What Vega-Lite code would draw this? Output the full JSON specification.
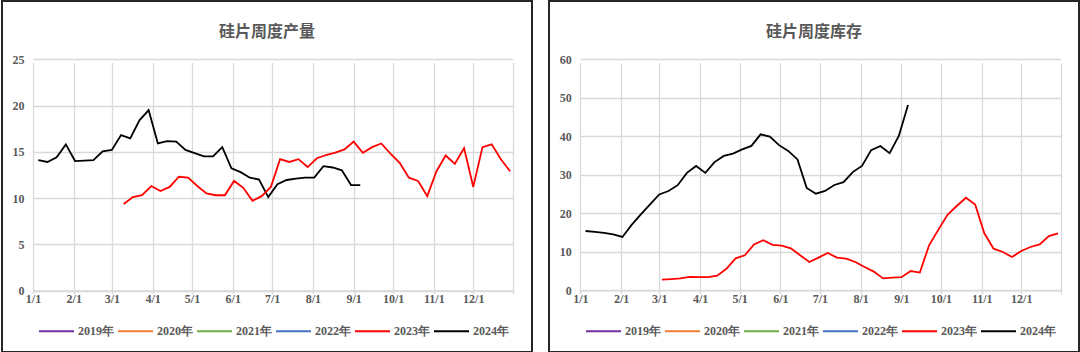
{
  "$schema": "https://vega.github.io/schema/vega-lite/v6.json",
  "background": "white",
  "padding": {"left": 1, "top": 0, "right": 0, "bottom": 0},
  "spacing": 17,
  "bounds": "flush",
  "resolve": {
    "scale": {"x": "independent", "y": "independent", "color": "independent", "strokeWidth": "independent"},
    "legend": {"color": "independent", "strokeWidth": "independent"},
    "axis": {"x": "independent", "y": "independent"}
  },
  "config": {
    "view": {"stroke": "#262626", "strokeWidth": 2},
    "font": "Liberation Serif",
    "axis": {
      "labelFont": "Liberation Serif",
      "labelFontSize": 12,
      "labelFontWeight": "bold",
      "labelColor": "#595959",
      "gridColor": "#d9d9d9",
      "gridWidth": 1.3,
      "domainColor": "#d9d9d9",
      "domainWidth": 1.3,
      "tickColor": "#d9d9d9",
      "tickWidth": 1.3,
      "title": null
    },
    "legend": {
      "orient": "none",
      "direction": "horizontal",
      "columns": 6,
      "legendX": 36,
      "legendY": 311.5,
      "symbolType": "stroke",
      "symbolSize": 1225,
      "labelFont": "Liberation Serif",
      "labelFontSize": 12,
      "labelFontWeight": "bold",
      "labelColor": "#595959",
      "labelOffset": 3,
      "columnPadding": 0,
      "title": null
    },
    "title": {
      "font": "Noto Sans CJK SC",
      "fontSize": 16,
      "fontWeight": "bold",
      "color": "#595959",
      "anchor": "middle",
      "frame": "group",
      "offset": -39
    }
  },
  "datasets": {
    "prod": [
      {"series": "2024年", "date": "2024/01/05", "value": 14.1},
      {"series": "2024年", "date": "2024/01/12", "value": 13.9},
      {"series": "2024年", "date": "2024/01/19", "value": 14.4},
      {"series": "2024年", "date": "2024/01/26", "value": 15.8},
      {"series": "2024年", "date": "2024/02/02", "value": 14.0},
      {"series": "2024年", "date": "2024/02/09", "value": 14.05},
      {"series": "2024年", "date": "2024/02/16", "value": 14.1},
      {"series": "2024年", "date": "2024/02/23", "value": 15.05},
      {"series": "2024年", "date": "2024/03/01", "value": 15.2},
      {"series": "2024年", "date": "2024/03/08", "value": 16.8},
      {"series": "2024年", "date": "2024/03/15", "value": 16.45},
      {"series": "2024年", "date": "2024/03/22", "value": 18.4},
      {"series": "2024年", "date": "2024/03/29", "value": 19.5},
      {"series": "2024年", "date": "2024/04/05", "value": 15.9},
      {"series": "2024年", "date": "2024/04/12", "value": 16.15},
      {"series": "2024年", "date": "2024/04/19", "value": 16.1},
      {"series": "2024年", "date": "2024/04/26", "value": 15.2},
      {"series": "2024年", "date": "2024/05/03", "value": 14.85},
      {"series": "2024年", "date": "2024/05/10", "value": 14.5},
      {"series": "2024年", "date": "2024/05/17", "value": 14.5},
      {"series": "2024年", "date": "2024/05/24", "value": 15.5},
      {"series": "2024年", "date": "2024/05/31", "value": 13.2},
      {"series": "2024年", "date": "2024/06/07", "value": 12.8},
      {"series": "2024年", "date": "2024/06/14", "value": 12.2},
      {"series": "2024年", "date": "2024/06/21", "value": 12.0},
      {"series": "2024年", "date": "2024/06/28", "value": 10.1},
      {"series": "2024年", "date": "2024/07/05", "value": 11.5},
      {"series": "2024年", "date": "2024/07/12", "value": 11.95},
      {"series": "2024年", "date": "2024/07/19", "value": 12.1},
      {"series": "2024年", "date": "2024/07/26", "value": 12.2},
      {"series": "2024年", "date": "2024/08/02", "value": 12.2},
      {"series": "2024年", "date": "2024/08/09", "value": 13.45},
      {"series": "2024年", "date": "2024/08/16", "value": 13.3},
      {"series": "2024年", "date": "2024/08/23", "value": 13.0},
      {"series": "2024年", "date": "2024/08/30", "value": 11.4},
      {"series": "2024年", "date": "2024/09/06", "value": 11.4},
      {"series": "2023年", "date": "2023/03/10", "value": 9.35},
      {"series": "2023年", "date": "2023/03/17", "value": 10.1},
      {"series": "2023年", "date": "2023/03/24", "value": 10.3},
      {"series": "2023年", "date": "2023/03/31", "value": 11.3},
      {"series": "2023年", "date": "2023/04/07", "value": 10.75},
      {"series": "2023年", "date": "2023/04/14", "value": 11.2},
      {"series": "2023年", "date": "2023/04/21", "value": 12.3},
      {"series": "2023年", "date": "2023/04/28", "value": 12.2},
      {"series": "2023年", "date": "2023/05/05", "value": 11.3},
      {"series": "2023年", "date": "2023/05/12", "value": 10.5},
      {"series": "2023年", "date": "2023/05/19", "value": 10.3},
      {"series": "2023年", "date": "2023/05/26", "value": 10.3},
      {"series": "2023年", "date": "2023/06/02", "value": 11.85},
      {"series": "2023年", "date": "2023/06/09", "value": 11.1},
      {"series": "2023年", "date": "2023/06/16", "value": 9.7},
      {"series": "2023年", "date": "2023/06/23", "value": 10.2},
      {"series": "2023年", "date": "2023/06/30", "value": 11.2},
      {"series": "2023年", "date": "2023/07/07", "value": 14.2},
      {"series": "2023年", "date": "2023/07/14", "value": 13.9},
      {"series": "2023年", "date": "2023/07/21", "value": 14.2},
      {"series": "2023年", "date": "2023/07/28", "value": 13.35},
      {"series": "2023年", "date": "2023/08/04", "value": 14.3},
      {"series": "2023年", "date": "2023/08/11", "value": 14.65},
      {"series": "2023年", "date": "2023/08/18", "value": 14.9},
      {"series": "2023年", "date": "2023/08/25", "value": 15.25},
      {"series": "2023年", "date": "2023/09/01", "value": 16.1},
      {"series": "2023年", "date": "2023/09/08", "value": 14.9},
      {"series": "2023年", "date": "2023/09/15", "value": 15.5},
      {"series": "2023年", "date": "2023/09/22", "value": 15.9},
      {"series": "2023年", "date": "2023/09/29", "value": 14.8},
      {"series": "2023年", "date": "2023/10/06", "value": 13.8},
      {"series": "2023年", "date": "2023/10/13", "value": 12.2},
      {"series": "2023年", "date": "2023/10/20", "value": 11.85},
      {"series": "2023年", "date": "2023/10/27", "value": 10.2},
      {"series": "2023年", "date": "2023/11/03", "value": 12.9},
      {"series": "2023年", "date": "2023/11/10", "value": 14.6},
      {"series": "2023年", "date": "2023/11/17", "value": 13.7},
      {"series": "2023年", "date": "2023/11/24", "value": 15.4},
      {"series": "2023年", "date": "2023/12/01", "value": 11.2},
      {"series": "2023年", "date": "2023/12/08", "value": 15.5},
      {"series": "2023年", "date": "2023/12/15", "value": 15.8},
      {"series": "2023年", "date": "2023/12/22", "value": 14.2},
      {"series": "2023年", "date": "2023/12/29", "value": 12.9}
    ],
    "inv": [
      {"series": "2024年", "date": "2024/01/05", "value": 15.4},
      {"series": "2024年", "date": "2024/01/12", "value": 15.15},
      {"series": "2024年", "date": "2024/01/19", "value": 14.9},
      {"series": "2024年", "date": "2024/01/26", "value": 14.5},
      {"series": "2024年", "date": "2024/02/02", "value": 13.85},
      {"series": "2024年", "date": "2024/02/09", "value": 17.0},
      {"series": "2024年", "date": "2024/02/16", "value": 19.7},
      {"series": "2024年", "date": "2024/02/23", "value": 22.3},
      {"series": "2024年", "date": "2024/03/01", "value": 24.9},
      {"series": "2024年", "date": "2024/03/08", "value": 25.8},
      {"series": "2024年", "date": "2024/03/15", "value": 27.3},
      {"series": "2024年", "date": "2024/03/22", "value": 30.5},
      {"series": "2024年", "date": "2024/03/29", "value": 32.3},
      {"series": "2024年", "date": "2024/04/05", "value": 30.5},
      {"series": "2024年", "date": "2024/04/12", "value": 33.3},
      {"series": "2024年", "date": "2024/04/19", "value": 34.9},
      {"series": "2024年", "date": "2024/04/26", "value": 35.5},
      {"series": "2024年", "date": "2024/05/03", "value": 36.6},
      {"series": "2024年", "date": "2024/05/10", "value": 37.5},
      {"series": "2024年", "date": "2024/05/17", "value": 40.5},
      {"series": "2024年", "date": "2024/05/24", "value": 39.9},
      {"series": "2024年", "date": "2024/05/31", "value": 37.7},
      {"series": "2024年", "date": "2024/06/07", "value": 36.2},
      {"series": "2024年", "date": "2024/06/14", "value": 34.0},
      {"series": "2024年", "date": "2024/06/21", "value": 26.6},
      {"series": "2024年", "date": "2024/06/28", "value": 25.1},
      {"series": "2024年", "date": "2024/07/05", "value": 25.8},
      {"series": "2024年", "date": "2024/07/12", "value": 27.35},
      {"series": "2024年", "date": "2024/07/19", "value": 28.1},
      {"series": "2024年", "date": "2024/07/26", "value": 30.7},
      {"series": "2024年", "date": "2024/08/02", "value": 32.3},
      {"series": "2024年", "date": "2024/08/09", "value": 36.4},
      {"series": "2024年", "date": "2024/08/16", "value": 37.5},
      {"series": "2024年", "date": "2024/08/23", "value": 35.6},
      {"series": "2024年", "date": "2024/08/30", "value": 40.1},
      {"series": "2024年", "date": "2024/09/06", "value": 48.1},
      {"series": "2023年", "date": "2023/03/03", "value": 2.75},
      {"series": "2023年", "date": "2023/03/10", "value": 2.9},
      {"series": "2023年", "date": "2023/03/17", "value": 3.1},
      {"series": "2023年", "date": "2023/03/24", "value": 3.5},
      {"series": "2023年", "date": "2023/03/31", "value": 3.4},
      {"series": "2023年", "date": "2023/04/07", "value": 3.4},
      {"series": "2023年", "date": "2023/04/14", "value": 3.8},
      {"series": "2023年", "date": "2023/04/21", "value": 5.6},
      {"series": "2023年", "date": "2023/04/28", "value": 8.3},
      {"series": "2023年", "date": "2023/05/05", "value": 9.1},
      {"series": "2023年", "date": "2023/05/12", "value": 11.9},
      {"series": "2023年", "date": "2023/05/19", "value": 13.0},
      {"series": "2023年", "date": "2023/05/26", "value": 11.8},
      {"series": "2023年", "date": "2023/06/02", "value": 11.6},
      {"series": "2023年", "date": "2023/06/09", "value": 10.9},
      {"series": "2023年", "date": "2023/06/16", "value": 9.1},
      {"series": "2023年", "date": "2023/06/23", "value": 7.35},
      {"series": "2023年", "date": "2023/06/30", "value": 8.5},
      {"series": "2023年", "date": "2023/07/07", "value": 9.7},
      {"series": "2023年", "date": "2023/07/14", "value": 8.5},
      {"series": "2023年", "date": "2023/07/21", "value": 8.2},
      {"series": "2023年", "date": "2023/07/28", "value": 7.35},
      {"series": "2023年", "date": "2023/08/04", "value": 6.05},
      {"series": "2023年", "date": "2023/08/11", "value": 4.85},
      {"series": "2023年", "date": "2023/08/18", "value": 3.1},
      {"series": "2023年", "date": "2023/08/25", "value": 3.3},
      {"series": "2023年", "date": "2023/09/01", "value": 3.4},
      {"series": "2023年", "date": "2023/09/08", "value": 5.0},
      {"series": "2023年", "date": "2023/09/15", "value": 4.6},
      {"series": "2023年", "date": "2023/09/22", "value": 11.7},
      {"series": "2023年", "date": "2023/09/29", "value": 15.7},
      {"series": "2023年", "date": "2023/10/06", "value": 19.6},
      {"series": "2023年", "date": "2023/10/13", "value": 21.9},
      {"series": "2023年", "date": "2023/10/20", "value": 24.05},
      {"series": "2023年", "date": "2023/10/27", "value": 22.3},
      {"series": "2023年", "date": "2023/11/03", "value": 14.8},
      {"series": "2023年", "date": "2023/11/10", "value": 10.8},
      {"series": "2023年", "date": "2023/11/17", "value": 9.95},
      {"series": "2023年", "date": "2023/11/24", "value": 8.65},
      {"series": "2023年", "date": "2023/12/01", "value": 10.2},
      {"series": "2023年", "date": "2023/12/08", "value": 11.25},
      {"series": "2023年", "date": "2023/12/15", "value": 11.9},
      {"series": "2023年", "date": "2023/12/22", "value": 14.1},
      {"series": "2023年", "date": "2023/12/29", "value": 14.8}
    ]
  },
  "hconcat": [
    {
      "width": 530,
      "height": 351,
      "title": {"text": "硅片周度产量"},
      "data": {"name": "prod"},
      "mark": {"type": "line"},
      "encoding": {
        "x": {
          "field": "date", "timeUnit": "monthdate", "type": "temporal",
          "scale": {"domain": [{"month": 1, "date": 1}, {"month": 12, "date": 31}], "range": [31, 510.7]},
          "axis": {
            "values": [{"month": 1, "date": 1}, {"month": 2, "date": 1}, {"month": 3, "date": 1}, {"month": 4, "date": 1}, {"month": 5, "date": 1}, {"month": 6, "date": 1}, {"month": 7, "date": 1}, {"month": 8, "date": 1}, {"month": 9, "date": 1}, {"month": 10, "date": 1}, {"month": 11, "date": 1}, {"month": 12, "date": 1}, {"month": 12, "date": 31}],
            "labelExpr": "date(datum.value) == 1 ? timeFormat(datum.value, '%-m/%-d') : ''",
            "offset": -61.5, "tickSize": 3, "labelPadding": 0, "grid": true, "labelOverlap": false, "labelFlush": false
          }
        },
        "y": {
          "field": "value", "type": "quantitative",
          "scale": {"domain": [0, 25], "range": [289.5, 58.3], "nice": false, "zero": false},
          "axis": {"values": [0, 5, 10, 15, 20, 25], "offset": -31, "domain": false, "ticks": false, "labelPadding": 9, "grid": true}
        },
        "color": {
          "field": "series", "type": "nominal",
          "scale": {"domain": ["2019年", "2020年", "2021年", "2022年", "2023年", "2024年"], "range": ["#7030A0", "#ED7D31", "#70AD47", "#4472C4", "#FF0000", "#000000"]}
        },
        "strokeWidth": {
          "field": "series", "type": "nominal",
          "scale": {"domain": ["2019年", "2020年", "2021年", "2022年", "2023年", "2024年"], "range": [1.8, 1.8, 1.8, 1.8, 2.8, 2.8]}
        }
      }
    },
    {
      "width": 530,
      "height": 351,
      "title": {"text": "硅片周度库存"},
      "data": {"name": "inv"},
      "mark": {"type": "line"},
      "encoding": {
        "x": {
          "field": "date", "timeUnit": "monthdate", "type": "temporal",
          "scale": {"domain": [{"month": 1, "date": 1}, {"month": 12, "date": 31}], "range": [31.3, 511.7]},
          "axis": {
            "values": [{"month": 1, "date": 1}, {"month": 2, "date": 1}, {"month": 3, "date": 1}, {"month": 4, "date": 1}, {"month": 5, "date": 1}, {"month": 6, "date": 1}, {"month": 7, "date": 1}, {"month": 8, "date": 1}, {"month": 9, "date": 1}, {"month": 10, "date": 1}, {"month": 11, "date": 1}, {"month": 12, "date": 1}, {"month": 12, "date": 31}],
            "labelExpr": "date(datum.value) == 1 ? timeFormat(datum.value, '%-m/%-d') : ''",
            "offset": -61.7, "tickSize": 3, "labelPadding": 0, "grid": true, "labelOverlap": false, "labelFlush": false
          }
        },
        "y": {
          "field": "value", "type": "quantitative",
          "scale": {"domain": [0, 60], "range": [289.3, 58.3], "nice": false, "zero": false},
          "axis": {"values": [0, 10, 20, 30, 40, 50, 60], "offset": -31.3, "domain": false, "ticks": false, "labelPadding": 9, "grid": true}
        },
        "color": {
          "field": "series", "type": "nominal",
          "scale": {"domain": ["2019年", "2020年", "2021年", "2022年", "2023年", "2024年"], "range": ["#7030A0", "#ED7D31", "#70AD47", "#4472C4", "#FF0000", "#000000"]}
        },
        "strokeWidth": {
          "field": "series", "type": "nominal",
          "scale": {"domain": ["2019年", "2020年", "2021年", "2022年", "2023年", "2024年"], "range": [1.8, 1.8, 1.8, 1.8, 2.8, 2.8]}
        }
      }
    }
  ]
}
